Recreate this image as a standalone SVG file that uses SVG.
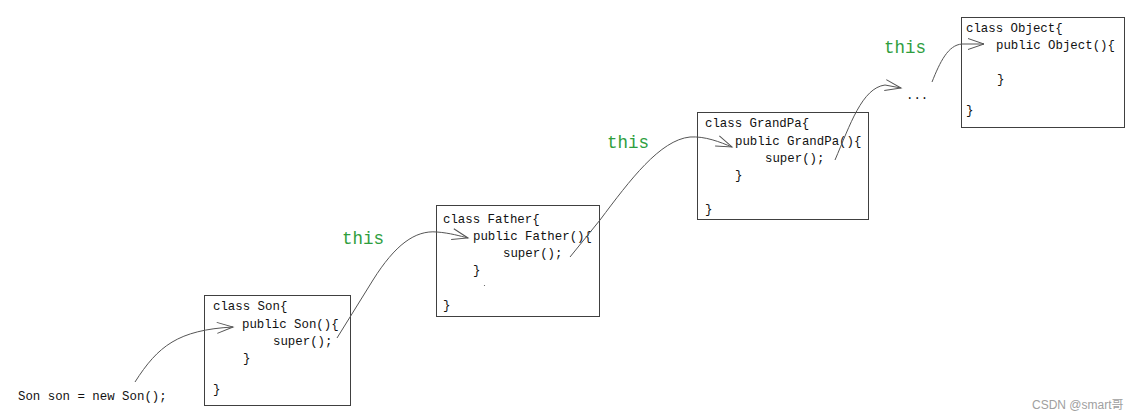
<svg xmlns="http://www.w3.org/2000/svg" width="1146" height="420" viewBox="0 0 1146 420">
<style>
.box{fill:#fff;stroke:#404040;stroke-width:1}
.code{font-family:"Liberation Mono","DejaVu Sans Mono",monospace;font-size:12.4px;fill:#111}
.this{font-family:"Liberation Mono","DejaVu Sans Mono",monospace;font-size:17.5px;fill:#2e9e3e}
.wire{fill:none;stroke:#555;stroke-width:1}
.wm{font-family:"Liberation Sans","Noto Sans CJK SC",sans-serif;font-size:12px;fill:#a0a0a0}
</style>
<defs>
<marker id="open" markerUnits="userSpaceOnUse" markerWidth="20" markerHeight="16" viewBox="-18 -8 20 16" refX="0" refY="0" orient="auto">
<path d="M-16,-5.5 L0,0 L-16,5.5" fill="none" stroke="#555" stroke-width="1"/>
</marker>
</defs>
<rect width="1146" height="420" fill="#fff"/>

<g id="son">
<rect class="box" x="204.5" y="295.5" width="146" height="110"/>
<text class="code" x="213" y="310">class Son{</text>
<text class="code" x="242" y="328">public Son(){</text>
<text class="code" x="273" y="345">super();</text>
<text class="code" x="243" y="362">}</text>
<text class="code" x="213" y="393">}</text>
</g>

<g id="father">
<rect class="box" x="436.5" y="205.5" width="163" height="111"/>
<text class="code" x="443" y="223">class Father{</text>
<text class="code" x="473" y="240">public Father(){</text>
<text class="code" x="503" y="257">super();</text>
<text class="code" x="473" y="274">}</text>
<circle cx="484.5" cy="285.5" r="0.6" fill="#555"/>
<text class="code" x="443" y="309">}</text>
</g>

<g id="grandpa">
<rect class="box" x="697.5" y="112.5" width="171" height="107"/>
<text class="code" x="705" y="127">class GrandPa{</text>
<text class="code" x="735" y="145">public GrandPa(){</text>
<text class="code" x="765" y="162">super();</text>
<text class="code" x="735" y="179">}</text>
<text class="code" x="705" y="213">}</text>
</g>

<g id="object">
<rect class="box" x="961.5" y="17.5" width="163" height="110"/>
<text class="code" x="966" y="32">class Object{</text>
<text class="code" x="996" y="49">public Object(){</text>
<text class="code" x="997" y="83">}</text>
<text class="code" x="966" y="114">}</text>
</g>

<g id="call">
<text class="code" x="18" y="400">Son son = new Son();</text>
</g>

<g id="ellipsis">
<text class="code" x="906" y="99">...</text>
</g>

<g id="labels">
<text class="this" x="342" y="244">this</text>
<text class="this" x="607" y="148">this</text>
<text class="this" x="884" y="53">this</text>
</g>

<g id="connectors">
<path class="wire" d="M135,382 C158,346 178,330 233,327" marker-end="url(#open)"/>
<path class="wire" d="M337,338 L373,280 C395,245 415,230 437,232 C450,233 460,236 468,238" marker-end="url(#open)"/>
<path class="wire" d="M570,257 L600,220 C630,180 660,140 690,137 C705,136 720,142 732,147" marker-end="url(#open)"/>
<path class="wire" d="M835,160 C850,125 862,88 885,85 L901,88" marker-end="url(#open)"/>
<path class="wire" d="M932,82 C940,62 948,45 962,44 L984,44" marker-end="url(#open)"/>
</g>

<text class="wm" x="1032" y="409">CSDN @smart哥</text>
</svg>
